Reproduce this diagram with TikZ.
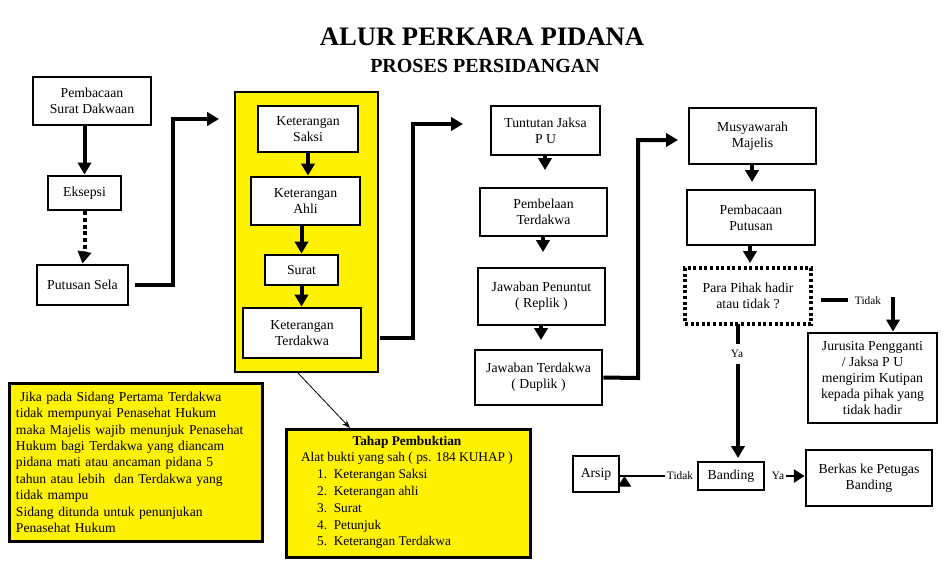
\documentclass[tikz,border=0pt]{standalone}
\usepackage{fontspec}
\setmainfont{Liberation Serif}
\usetikzlibrary{arrows.meta,positioning}
\tikzset{
  bx/.style={draw,line width=2.2pt,fill=white,align=center,inner sep=0pt,font=\fontsize{10.3}{12}\selectfont},
  thk/.style={line width=3pt,-{Triangle[length=9pt,width=10pt]}},
  thkn/.style={line width=3pt},
  sml/.style={line width=1pt,-{Triangle[length=8pt,width=10pt]}},
  lbl/.style={font=\fontsize{8.5}{9}\selectfont,inner sep=1pt},
  yel/.style={draw,line width=1.5pt,fill=yellow},
}
\newcommand\Bx[6]{\node[bx,minimum width=#4*0.75pt-#2*0.75pt,minimum height=#5*0.75pt-#3*0.75pt] (#1) at ({(#2+#4)/2},{(#3+#5)/2}) {#6};}
\begin{document}
\begin{tikzpicture}[x=0.75pt,y=-0.75pt]
\useasboundingbox (0,0) rectangle (952,582);
\node[font=\bfseries\fontsize{20}{22}\selectfont] (t1) at (482,37) {ALUR PERKARA PIDANA};
\node[font=\bfseries\fontsize{15}{17}\selectfont] (t2) at (485,66) {PROSES PERSIDANGAN};
% yellow panel
\node[yel,minimum width=143*0.75pt,minimum height=280*0.75pt] (panel) at (306.5,232) {};
% column 1
\Bx{psd}{33}{77}{151}{125}{Pembacaan\\Surat Dakwaan}
\Bx{eks}{48}{176}{121}{210}{Eksepsi}
\Bx{sela}{37}{265}{128}{305}{Putusan Sela}
\draw[thk] (psd.south -| eks) -- (eks.north);
\draw[line width=3pt,dotted] (eks.south) -- ++(0,40);
\draw[thk] ([yshift=-30pt]eks.south) -- (sela.north);
\coordinate (p1) at (219,119);
\draw[thk] (sela.east) ++(6,0) coordinate (s1) -- (173,285) -- (173,119) -- (p1);
% column 2
\Bx{saksi}{258}{106}{358}{152}{Keterangan\\Saksi}
\Bx{ahli}{251}{177}{360}{225}{Keterangan\\Ahli}
\Bx{surat}{265}{255}{338}{285}{Surat}
\Bx{ktd}{243}{308}{361}{358}{Keterangan\\Terdakwa}
\draw[thk] (saksi.south) -- (saksi.south |- ahli.north);
\draw[thk] (ahli.south -| surat) -- (surat.north);
\draw[thk] (surat.south) -- (surat.south |- ktd.north);
\coordinate (p2) at (463,124);
\draw[thk] (380,338) -- (413,338) -- (413,124) -- (p2);
% column 3
\Bx{tun}{491}{106}{600}{155}{Tuntutan Jaksa\\P U}
\Bx{bela}{480}{188}{607}{236}{Pembelaan\\Terdakwa}
\Bx{rep}{478}{268}{605}{325}{Jawaban Penuntut\\( Replik )}
\Bx{dup}{475}{350}{602}{405}{Jawaban Terdakwa\\( Duplik )}
\draw[thk] (545,155) -- (545,170);
\draw[thk] (543,236) -- (543,252);
\draw[thk] (541,325) -- (541,340);
\coordinate (p3) at (678,140);
\draw[thk] (dup.east) -- (638,378) -- (638,140) -- (p3);
% column 4
\Bx{mus}{689}{108}{816}{164}{Musyawarah\\Majelis}
\Bx{pput}{687}{190}{815}{245}{Pembacaan\\Putusan}
\node[bx,dotted,line width=2.5pt,minimum width=126*0.75pt,minimum height=56*0.75pt] (pp) at (748,296) {Para Pihak hadir\\atau tidak ?};
\draw[thk] (752,164) -- (752,182);
\draw[thk] (750,245) -- (750,263);
\Bx{jur}{808}{333}{937}{423}{Jurusita Pengganti\\/ Jaksa P U\\mengirim Kutipan\\kepada pihak yang\\tidak hadir}
\draw[thkn] (821,300) -- (848,300);
\node[lbl] (ltd) at (868,301) {Tidak};
\draw[thk] (893,297) -- (jur.north -| 893,0);
\Bx{band}{698}{462}{764}{490}{Banding}
\Bx{arsip}{573}{456}{619}{492}{Arsip}
\Bx{berkas}{806}{450}{932}{506}{Berkas ke Petugas\\Banding}
\draw[thkn] (738,324) -- (738,344);
\node[lbl] (ya) at (737,354) {Ya};
\draw[thk] (738,364) -- (738,458);
\node[lbl] (ltid) at (680,476) {Tidak};
\draw[sml] (ltid.west) -- (ltid.west -| arsip.east) ++(4,0);
\node[lbl] (lya) at (778,476) {Ya};
\draw[sml] (lya.east) -- (lya.east -| berkas.west);
% notes
\node[yel,line width=2pt,minimum width=250*0.75pt,minimum height=158*0.75pt,align=left,anchor=north west,text width=240*0.75pt,inner sep=5pt,font=\fontsize{10.2}{12.3}\selectfont] (note) at (8,382) {\hspace*{3pt}Jika pada Sidang Pertama Terdakwa\\tidak mempunyai Penasehat Hukum\\maka Majelis wajib menunjuk Penasehat\\Hukum bagi Terdakwa yang diancam\\pidana mati atau ancaman pidana 5\\tahun atau lebih\ \ dan Terdakwa yang\\tidak mampu\\Sidang ditunda untuk penunjukan\\Penasehat Hukum};
\node[yel,line width=2.2pt,minimum width=244*0.75pt,minimum height=128*0.75pt,anchor=north west,inner sep=0pt] (tahap) at (285,428) {};
\node[font=\bfseries\fontsize{10}{12}\selectfont] (th) at (407,442) {Tahap Pembuktian};
\node[align=left,anchor=north,font=\fontsize{10}{12.6}\selectfont] (tt) at (407,448) {Alat bukti yang sah ( ps. 184 KUHAP )\\\hspace*{12pt}1.\ \ Keterangan Saksi\\\hspace*{12pt}2.\ \ Keterangan ahli\\\hspace*{12pt}3.\ \ Surat\\\hspace*{12pt}4.\ \ Petunjuk\\\hspace*{12pt}5.\ \ Keterangan Terdakwa};
\draw[-{Stealth[length=6pt]},line width=0.6pt] (298,373) -- (350,428);
\end{tikzpicture}
\end{document}
